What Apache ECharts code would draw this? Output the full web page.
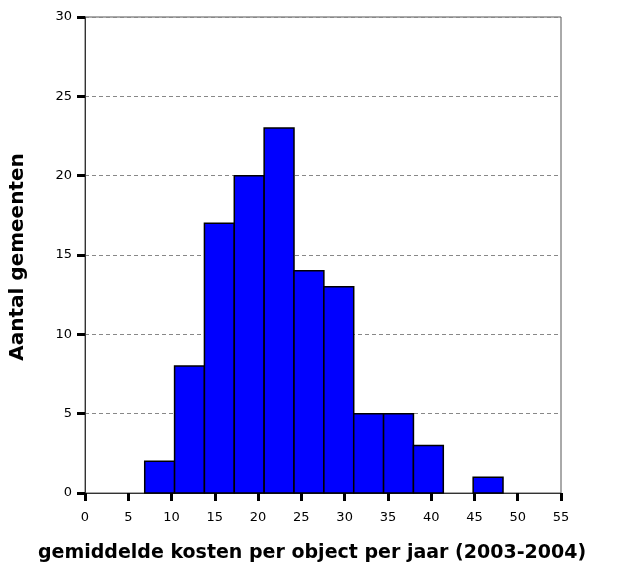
<!DOCTYPE html>
<html>
<head>
<meta charset="utf-8">
<script src="https://cdn.jsdelivr.net/npm/echarts@6/dist/echarts.min.js"></script>
<style>html,body{margin:0;padding:0;background:#fff}#c{width:618px;height:575px}</style>
</head>
<body>
<div id="c"></div>
<script>
const binEdges = [6.9, 10.35, 13.8, 17.25, 20.7, 24.15, 27.6, 31.05, 34.5, 37.95, 41.4, 44.85, 48.3];
const counts = [2, 8, 17, 20, 23, 14, 13, 5, 5, 3, 0, 1];
const xTicks = [0, 5, 10, 15, 20, 25, 30, 35, 40, 45, 50, 55];
const yTicks = [0, 5, 10, 15, 20, 25, 30];
const xTitle = 'gemiddelde kosten per object per jaar (2003-2004)';
const yTitle = 'Aantal gemeenten';

const data = counts.map((c, i) => [binEdges[i], binEdges[i + 1], c]);
const font = '"DejaVu Sans", Verdana, sans-serif';

const chart = echarts.init(document.getElementById('c'), null, {renderer: 'canvas'});
chart.setOption({
  animation: false,
  backgroundColor: '#fff',
  grid: {left: 85, top: 17, right: 57, bottom: 82, show: true, borderColor: '#555', borderWidth: 1, backgroundColor: 'transparent'},
  xAxis: {
    type: 'value', min: xTicks[0], max: xTicks[xTicks.length - 1], interval: 5,
    axisLine: {show: true, onZero: false, lineStyle: {color: '#333', width: 1}},
    axisTick: {show: true, length: 8, lineStyle: {color: '#000', width: 3}},
    axisLabel: {color: '#000', fontFamily: font, fontSize: 13, margin: 18},
    splitLine: {show: false}
  },
  yAxis: {
    type: 'value', min: yTicks[0], max: yTicks[yTicks.length - 1], interval: 5,
    axisLine: {show: true, lineStyle: {color: '#333', width: 1}},
    axisTick: {show: true, length: 8, lineStyle: {color: '#000', width: 3}},
    axisLabel: {color: '#000', fontFamily: font, fontSize: 13, margin: 13},
    splitLine: {show: true, lineStyle: {color: '#888', type: [4, 3], width: 1}}
  },
  graphic: [
    {type: 'text', x: 312, y: 553, style: {text: xTitle, font: 'bold 19px ' + font, fill: '#000', textAlign: 'center', textVerticalAlign: 'middle'}},
    {type: 'text', x: 18, y: 257, rotation: Math.PI / 2, style: {text: yTitle, font: 'bold 20px ' + font, fill: '#000', textAlign: 'center', textVerticalAlign: 'middle'}}
  ],
  series: [{
    type: 'custom',
    data: data,
    encode: {x: [0, 1], y: 2},
    renderItem: function (params, api) {
      const lo = api.value(0), hi = api.value(1), c = api.value(2);
      if (!c) return null;
      const p0 = api.coord([lo, 0]);
      const p1 = api.coord([hi, c]);
      return {
        type: 'rect',
        shape: {x: p0[0], y: p1[1], width: p1[0] - p0[0], height: p0[1] - p1[1]},
        style: {fill: '#0000ff', stroke: '#000', lineWidth: 1.5}
      };
    }
  }]
});
</script>
</body>
</html>
